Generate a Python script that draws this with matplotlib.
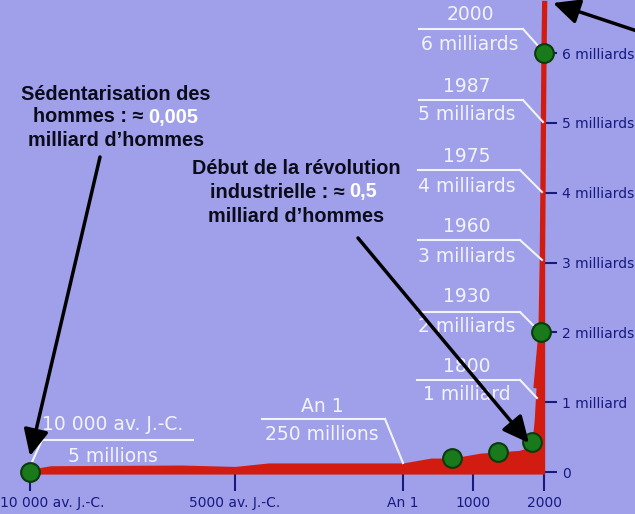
import numpy as np
import matplotlib
matplotlib.use('Agg')
from matplotlib import pyplot as plt
from matplotlib.transforms import Affine2D


####################
# data (population in milliards d'hommes)
####################

curve_years = [-10000, -9500, -6300, -5000, -4000, 0, 400, 700, 1100, 1650,
               1800, 1830, 1870, 1900, 1930, 1960, 1975, 1987, 2000, 2010]
curve_pop = [0.04, 0.09, 0.1, 0.08, 0.13, 0.13, 0.2, 0.2, 0.27, 0.31,
             0.36, 0.4, 0.75, 1.2, 2.0, 3.0, 4.0, 5.0, 6.0, 6.75]

dot_years = [-10000, 700, 1350, 1830, 1930, 2000]
dot_pop = [0.005, 0.2, 0.29, 0.43, 2.0, 6.0]

tick_years = [-10000, -5000, 0, 1000, 2000]
tick_year_labels = ['10 000 av. J.-C.', '5000 av. J.-C.', 'An 1', '1000', '2000']

tick_pop = [0, 1, 2, 3, 4, 5, 6]
tick_pop_labels = ['0', '1 milliard', '2 milliards', '3 milliards',
                   '4 milliards', '5 milliards', '6 milliards']

callout_dates = ['10 000 av. J.-C.', 'An 1', '1800', '1930', '1960', '1975', '1987', '2000']
callout_values = ['5 millions', '250 millions', '1 milliard', '2 milliards',
                  '3 milliards', '4 milliards', '5 milliards', '6 milliards']

note1 = ['Sédentarisation des', 'hommes : ≈', '0,005', 'milliard d’hommes']
note2 = ['Début de la révolution', 'industrielle : ≈', '0,5', 'milliard d’hommes']


####################
# layout (pixels of the 635x514 picture, y from the top)
####################

W, H = 635, 514

# the time axis of the original is not to scale: piecewise mapping
X_NODES_YEAR = [-10730, -10000, -5000, 0, 1000, 1800, 1900, 1930, 2000, 3300]
X_NODES_PX = [0, 30, 235, 403, 473, 530, 536, 541, 544, 635]
Y0_PX = 472
PX_PER_MILLIARD = 69.8

# cx, date_y, line_y, value_y, line_x0, line_x1, foot (x, y) of the slanted leader, from which end
callout_layout = [
    (113, 425, 440, 457, 42, 193, (32, 462), 'left'),
    (322, 407, 419, 435, 262, 385, (403, 463), 'right'),
    (467, 367, 380, 395, 417, 520, (537, 398), 'right'),
    (467, 297, 312, 327, 418, 520, (537, 329), 'right'),
    (467, 227, 240, 257, 418, 520, (542, 260), 'right'),
    (467, 157, 170, 187, 418, 520, (542, 192), 'right'),
    (467, 87, 100, 115, 419, 523, (543, 122), 'right'),
    (470, 15, 29, 45, 419, 523, (540, 48), 'right'),
]

BG = '#a0a0ea'
RED = '#d21c12'
GREEN = '#187a1a'
NAVY = '#161a80'
WHITE = '#f3f3fb'
INK = '#0b0b1c'
BOLD_FONT = ['Liberation Sans', 'DejaVu Sans']
NOTE_SIZE = 14.3


def fwd(x):
    return np.interp(x, X_NODES_YEAR, X_NODES_PX)


def inv(p):
    return np.interp(p, X_NODES_PX, X_NODES_YEAR)


fig = plt.figure(figsize=(W / 100, H / 100), dpi=100)
fig.patch.set_facecolor(BG)
ax = fig.add_axes([0, 0, 1, 1])
ax.set_facecolor(BG)
ax.set_xscale('function', functions=(fwd, inv))

# picture pixels -> display
pix = Affine2D().scale(1 / W, -1 / H).translate(0, 1) + fig.transFigure

# red population area and the vertical line of the recent years
ax.fill_between(curve_years, -0.03, curve_pop, color=RED, lw=0, zorder=2)
i_steep = curve_years.index(1900)
ax.plot(curve_years[i_steep:], curve_pop[i_steep:], color=RED, lw=3.8,
        solid_capstyle='butt', zorder=2)

ax.plot(dot_years, dot_pop, 'o', ms=13.5, mfc=GREEN, mec='#0b3a0b', mew=1.5, zorder=5)

# axes: bottom at 0, y ticks on a vertical line at year 2000
for s in ax.spines.values():
    s.set_visible(False)
ax.spines['bottom'].set_position(('data', 0))
ax.spines['right'].set_position(('data', 2000))
ax.set_axisbelow(True)
ax.yaxis.tick_right()

ax.set_xticks(tick_years, [''] + tick_year_labels[1:])
ax.set_yticks(tick_pop, tick_pop_labels)
ax.tick_params(axis='x', direction='out', length=13.5, width=1.5, color=NAVY,
               pad=3.5, labelsize=10, labelcolor=NAVY)
ax.tick_params(axis='y', direction='out', length=9.5, width=1.5, color=NAVY,
               pad=3.6, labelsize=10, labelcolor=NAVY,
               left=False, right=True, labelleft=False, labelright=True)
ax.text(0, 503, tick_year_labels[0], transform=pix, ha='left', va='center',
        fontsize=10, color=NAVY)

# white callouts with their leader lines
for (date, value, lay) in zip(callout_dates, callout_values, callout_layout):
    cx, date_y, line_y, value_y, x0, x1, foot, side = lay
    ax.text(cx, date_y, date, transform=pix, ha='center', va='center',
            fontsize=13.5, color=WHITE, zorder=3)
    ax.text(cx, value_y, value, transform=pix, ha='center', va='center',
            fontsize=13.5, color=WHITE, zorder=3)
    ax.plot([x0, x1], [line_y, line_y], transform=pix, color=WHITE, lw=1.5, zorder=3)
    start = x0 if side == 'left' else x1
    ax.plot([start, foot[0]], [line_y, foot[1]], transform=pix, color=WHITE,
            lw=1.5, zorder=3)

# black notes, with the numbers in white
def note(lines, cx, ys, x_mid):
    kw = dict(transform=pix, fontsize=NOTE_SIZE, fontweight='bold', family=BOLD_FONT,
              va='center', zorder=6)
    ax.text(cx, ys[0], lines[0], ha='center', color=INK, **kw)
    t = ax.text(x_mid, ys[1], lines[1], ha='left', color=INK, **kw)
    ax.annotate(lines[2], xy=(1, 0), xycoords=t, xytext=(5, 0),
                textcoords='offset pixels', ha='left', va='bottom', color='white',
                fontsize=NOTE_SIZE, fontweight='bold', family=BOLD_FONT, zorder=6)
    ax.text(cx, ys[2], lines[3], ha='center', color=INK, **kw)


note(note1, 116, (94, 117, 140), 33)
note(note2, 296, (169, 192, 216), 210)

# arrows
arrow_kw = dict(arrowstyle='-|>,head_length=0.8,head_width=0.38', color='black',
                lw=2.5, shrinkA=0, shrinkB=0, mutation_scale=20)
for tail, tip in [((100, 157), (30, 456)), ((358, 238), (529, 443)), ((640, 32), (553, 3))]:
    ax.annotate('', xy=tip, xycoords=pix, xytext=tail, textcoords=pix,
                arrowprops=arrow_kw, zorder=7)

ax.set_xlim(X_NODES_YEAR[0], X_NODES_YEAR[-1])
ax.set_ylim((Y0_PX - H) / PX_PER_MILLIARD, Y0_PX / PX_PER_MILLIARD)

fig.savefig('out.png', dpi=100, facecolor=BG)
